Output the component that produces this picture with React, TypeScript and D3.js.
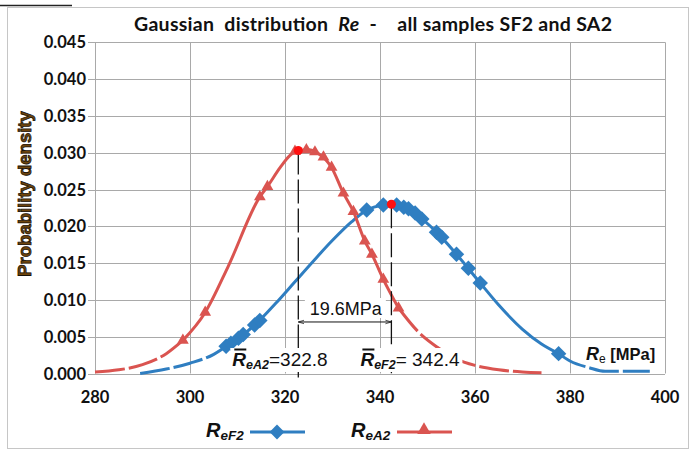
import React, { useEffect, useRef } from "react";
import * as d3 from "d3";

const WIDTH = 698;
const HEIGHT = 457;
const MARGIN = { LEFT: 95, RIGHT: 33, TOP: 42.3, BOTTOM: 83.5 };

const BLUE = "#2F7EC1";
const RED = "#DA5450";
const GRID = "#A9A9A9";

const xTicks = [280, 300, 320, 340, 360, 380, 400];
const yTicks = [0, 0.005, 0.01, 0.015, 0.02, 0.025, 0.03, 0.035, 0.04, 0.045];

// fitted density curves [Re, density]
const reF2Curve: [number, number][] = [
  [289.5, 0.0], [295, 0.0006], [300, 0.0014], [305, 0.0026], [308.1, 0.0039],
  [310.2, 0.0048], [314.0, 0.0068], [318, 0.0095], [322, 0.0124], [326, 0.0153],
  [330, 0.0181], [334, 0.0206], [337.2, 0.0222], [340.7, 0.0229], [342.4, 0.023],
  [345, 0.0226], [348.8, 0.021], [351.9, 0.0192], [356.1, 0.0162], [361.1, 0.0123],
  [365, 0.0093], [370, 0.006], [374, 0.004], [377.6, 0.0027], [380, 0.0017],
  [384, 0.0008], [387.4, 0.0003], [396.8, 0.0003],
];
const reA2Curve: [number, number][] = [
  [280, 0.0002], [285, 0.0005], [290, 0.0012], [295, 0.0027], [298.5, 0.0045],
  [303.2, 0.0083], [308, 0.0145], [314.7, 0.024], [316.3, 0.0254], [319, 0.028],
  [321, 0.0296], [322.8, 0.0303], [325, 0.0304], [327, 0.0299], [329.8, 0.028],
  [332.3, 0.0245], [334.4, 0.022], [336.8, 0.018], [338.3, 0.0162], [340.7, 0.0128],
  [343.9, 0.0089], [348, 0.0057], [352, 0.0036], [356, 0.002], [360, 0.0011],
  [365, 0.0005], [370, 0.0002], [374, 0.0001],
];

// individual samples [Re, density]
const reF2Samples: [number, number][] = [
  [307.6, 0.0037], [308.6, 0.0041], [310.2, 0.0048], [311.2, 0.0053], [313.6, 0.0066],
  [314.7, 0.0072], [337.2, 0.0222], [340.7, 0.0229], [343.5, 0.0229], [345, 0.0226],
  [346, 0.0224], [347.4, 0.0218], [348.8, 0.021], [351.9, 0.0192], [353, 0.0185],
  [356.1, 0.0162], [358.6, 0.0143], [361.1, 0.0123], [377.6, 0.0027],
];
const reA2Samples: [number, number][] = [
  [298.5, 0.0045], [303.2, 0.0083], [314.7, 0.024], [316.3, 0.0254], [322.1, 0.0302],
  [324.5, 0.0304], [326.3, 0.0301], [328.1, 0.0294], [329.8, 0.028], [332.3, 0.0245],
  [334.4, 0.022], [336.8, 0.018], [338.3, 0.0162], [340.7, 0.0128], [343.9, 0.0089],
];

// sample range drawn solid, the rest of each curve is dashed
const reF2Solid = [308.1, 377.6];
const reA2Solid = [298.5, 343.9];

const meanF2 = 342.4;
const meanA2 = 322.8;
const peakF2 = 0.023;
const peakA2 = 0.0303;

const App = () => {
  const svgRef = useRef<SVGSVGElement>(null);

  useEffect(() => {
    const svg = d3.select(svgRef.current);
    svg.selectAll("*").remove();

    const xScale = d3
      .scaleLinear()
      .domain([280, 400])
      .range([MARGIN.LEFT, WIDTH - MARGIN.RIGHT]);
    const yScale = d3
      .scaleLinear()
      .domain([0, 0.045])
      .range([HEIGHT - MARGIN.BOTTOM, MARGIN.TOP]);

    svg
      .append("rect")
      .attr("x", 7.5)
      .attr("y", 7.5)
      .attr("width", 681)
      .attr("height", 441)
      .attr("fill", "#fff")
      .attr("stroke", "#C6C6C6");
    svg
      .append("line")
      .attr("x1", 0)
      .attr("x2", 72)
      .attr("y1", 5.5)
      .attr("y2", 5.5)
      .attr("stroke", "#222")
      .attr("stroke-width", 1.5);

    // grid
    const grid = svg.append("g").attr("stroke", GRID).attr("stroke-width", 1);
    grid
      .selectAll(".vx")
      .data(xTicks)
      .join("line")
      .attr("x1", (d) => Math.round(xScale(d)) + 0.5)
      .attr("x2", (d) => Math.round(xScale(d)) + 0.5)
      .attr("y1", yScale(0.045))
      .attr("y2", yScale(0));
    grid
      .selectAll(".hy")
      .data(yTicks)
      .join("line")
      .attr("x1", MARGIN.LEFT - 7)
      .attr("x2", xScale(400))
      .attr("y1", (d) => Math.round(yScale(d)) + 0.5)
      .attr("y2", (d) => Math.round(yScale(d)) + 0.5);

    const tickFont = "Lato, 'Open Sans', sans-serif";
    svg
      .append("g")
      .selectAll("text")
      .data(yTicks)
      .join("text")
      .attr("x", MARGIN.LEFT - 9)
      .attr("y", (d) => yScale(d) + 6)
      .attr("text-anchor", "end")
      .attr("font-family", tickFont)
      .attr("font-weight", 700)
      .attr("font-size", 16.5)
      .attr("fill", "#111")
      .text((d) => d.toFixed(3));
    svg
      .append("g")
      .selectAll("text")
      .data(xTicks)
      .join("text")
      .attr("x", (d) => xScale(d))
      .attr("y", 403)
      .attr("text-anchor", "middle")
      .attr("font-family", tickFont)
      .attr("font-weight", 700)
      .attr("font-size", 16.5)
      .attr("fill", "#111")
      .text((d) => d);

    // title
    const title = svg
      .append("text")
      .attr("x", 373)
      .attr("y", 31)
      .attr("text-anchor", "middle")
      .attr("font-family", tickFont)
      .attr("font-weight", 700)
      .attr("font-size", 19.5)
      .attr("textLength", 478)
      .attr("lengthAdjust", "spacing")
      .attr("fill", "#111")
      .style("white-space", "pre");
    title.append("tspan").text("Gaussian  distribution  ");
    title.append("tspan").attr("font-style", "italic").text("Re");
    title.append("tspan").text("  -    all samples SF2 and SA2");

    svg
      .append("text")
      .attr("transform", "translate(31,194) rotate(-90)")
      .attr("text-anchor", "middle")
      .attr("font-family", "'Liberation Sans', Arial, sans-serif")
      .attr("font-weight", 700)
      .attr("font-size", 18.5)
      .attr("fill", "#6E450C")
      .attr("stroke", "#1a1208")
      .attr("stroke-width", 0.8)
      .text("Probability density");

    const line = d3
      .line<[number, number]>()
      .x((d) => xScale(d[0]))
      .y((d) => yScale(d[1]))
      .curve(d3.curveMonotoneX);

    const drawSeries = (
      curve: [number, number][],
      solid: number[],
      color: string
    ) => {
      const g = svg
        .append("g")
        .attr("fill", "none")
        .attr("stroke", color)
        .attr("stroke-width", 3);
      const left = curve.filter((d) => d[0] <= solid[0]);
      const mid = curve.filter((d) => d[0] >= solid[0] && d[0] <= solid[1]);
      const right = curve.filter((d) => d[0] >= solid[1]);
      [left, right].forEach((part) =>
        g.append("path").attr("d", line(part)).attr("stroke-dasharray", "30,4")
      );
      g.append("path").attr("d", line(mid));
    };

    drawSeries(reF2Curve, reF2Solid, BLUE);
    svg
      .append("g")
      .selectAll("path")
      .data(reF2Samples)
      .join("path")
      .attr("d", d3.symbol(d3.symbolSquare, 120)())
      .attr("transform", (d) => `translate(${xScale(d[0])},${yScale(d[1])}) rotate(45)`)
      .attr("fill", BLUE);

    drawSeries(reA2Curve, reA2Solid, RED);
    svg
      .append("g")
      .selectAll("path")
      .data(reA2Samples)
      .join("path")
      .attr("d", d3.symbol(d3.symbolTriangle, 60)())
      .attr("transform", (d) => `translate(${xScale(d[0])},${yScale(d[1])})`)
      .attr("fill", RED);

    // mean markers
    const means = [
      [meanA2, peakA2],
      [meanF2, peakF2],
    ];
    svg
      .append("g")
      .selectAll("line")
      .data(means)
      .join("line")
      .attr("x1", (d) => xScale(d[0]))
      .attr("x2", (d) => xScale(d[0]))
      .attr("y1", (d) => yScale(d[1]))
      .attr("y2", yScale(0) + 4)
      .attr("stroke", "#111")
      .attr("stroke-width", 1.3)
      .attr("stroke-dasharray", "24,5");

    // difference arrow
    const defs = svg.append("defs");
    defs
      .append("marker")
      .attr("id", "arr")
      .attr("viewBox", "0 0 10 10")
      .attr("refX", 10)
      .attr("refY", 5)
      .attr("markerWidth", 6)
      .attr("markerHeight", 6)
      .attr("orient", "auto-start-reverse")
      .append("path")
      .attr("d", "M0,2 L10,5 L0,8")
      .attr("fill", "none")
      .attr("stroke", "#111")
      .attr("stroke-width", 1.2);
    const arrowY = yScale(0.007);
    svg
      .append("line")
      .attr("x1", xScale(meanA2))
      .attr("x2", xScale(meanF2))
      .attr("y1", arrowY)
      .attr("y2", arrowY)
      .attr("stroke", "#111")
      .attr("stroke-width", 1)
      .attr("marker-start", "url(#arr)")
      .attr("marker-end", "url(#arr)");

    const arial = "'Liberation Sans', Arial, sans-serif";
    const diffX = (xScale(meanA2) + xScale(meanF2)) / 2;
    svg
      .append("rect")
      .attr("x", diffX - 40)
      .attr("y", 298)
      .attr("width", 81)
      .attr("height", 20)
      .attr("fill", "#fff");
    svg
      .append("text")
      .attr("x", diffX + 1)
      .attr("y", 315)
      .attr("text-anchor", "middle")
      .attr("font-family", arial)
      .attr("font-size", 18)
      .attr("fill", "#111")
      .style("white-space", "pre")
      .text(`${(meanF2 - meanA2).toFixed(1)}MPa`);

    const meanLabel = (x0: number, sub: string, value: string, w: number) => {
      svg
        .append("rect")
        .attr("x", x0 - 2)
        .attr("y", 348)
        .attr("width", w)
        .attr("height", 24)
        .attr("fill", "#fff");
      const t = svg
        .append("text")
        .attr("x", x0)
        .attr("y", 366)
        .attr("font-family", arial)
        .attr("fill", "#111")
        .style("white-space", "pre");
      t.append("tspan")
        .attr("font-weight", 700)
        .attr("font-style", "italic")
        .attr("font-size", 19)
        .text("R");
      t.append("tspan")
        .attr("font-weight", 700)
        .attr("font-style", "italic")
        .attr("font-size", 12.5)
        .attr("dy", 3)
        .text(sub);
      t.append("tspan").attr("font-size", 19).attr("dy", -3).text(value);
      svg
        .append("line")
        .attr("x1", x0 + 2)
        .attr("x2", x0 + 14)
        .attr("y1", 349.5)
        .attr("y2", 349.5)
        .attr("stroke", "#111")
        .attr("stroke-width", 2);
    };
    meanLabel(xScale(meanA2) - 66, "eA2", `=${meanA2}`, 101);
    meanLabel(xScale(meanF2) - 31, "eF2", `= ${meanF2}`, 104);

    // axis unit label
    svg
      .append("rect")
      .attr("x", 583)
      .attr("y", 343)
      .attr("width", 80)
      .attr("height", 21)
      .attr("fill", "#fff");
    const unit = svg
      .append("text")
      .attr("x", 586)
      .attr("y", 360)
      .attr("font-family", arial)
      .attr("fill", "#111")
      .style("white-space", "pre");
    unit
      .append("tspan")
      .attr("font-weight", 700)
      .attr("font-style", "italic")
      .attr("font-size", 18)
      .text("R");
    unit.append("tspan").attr("font-size", 12).attr("dy", 3).text("e");
    unit
      .append("tspan")
      .attr("font-weight", 700)
      .attr("font-size", 16.5)
      .attr("dy", -3)
      .text(" [MPa]");

    // legend
    const legend = [
      { sub: "eF2", color: BLUE, x: 206, lx: 250, symbol: "diamond" },
      { sub: "eA2", color: RED, x: 351, lx: 397, symbol: "triangle" },
    ];
    legend.forEach((l) => {
      const t = svg
        .append("text")
        .attr("x", l.x)
        .attr("y", 437)
        .attr("font-family", arial)
        .attr("font-weight", 700)
        .attr("font-style", "italic")
        .attr("fill", "#111");
      t.append("tspan").attr("font-size", 20).text("R");
      t.append("tspan").attr("font-size", 13.5).attr("dy", 3).text(l.sub);
      svg
        .append("line")
        .attr("x1", l.lx)
        .attr("x2", l.lx + 55)
        .attr("y1", 432)
        .attr("y2", 432)
        .attr("stroke", l.color)
        .attr("stroke-width", 3);
      const cx = l.lx + 27;
      if (l.symbol === "diamond") {
        svg
          .append("path")
          .attr("d", d3.symbol(d3.symbolSquare, 110)())
          .attr("transform", `translate(${cx},432) rotate(45)`)
          .attr("fill", l.color);
      } else {
        svg
          .append("path")
          .attr("d", d3.symbol(d3.symbolTriangle, 80)())
          .attr("transform", `translate(${cx},430)`)
          .attr("fill", l.color);
      }
    });

    // peak points
    svg
      .append("g")
      .selectAll("circle")
      .data(means)
      .join("circle")
      .attr("cx", (d) => xScale(d[0]))
      .attr("cy", (d) => yScale(d[1]))
      .attr("r", 4.5)
      .attr("fill", "#FF1010");
  }, []);

  return (
    <svg
      ref={svgRef}
      width={WIDTH}
      height={HEIGHT}
      style={{ position: "absolute", left: 0, top: 0, background: "#fff" }}
    ></svg>
  );
};

export default App;
